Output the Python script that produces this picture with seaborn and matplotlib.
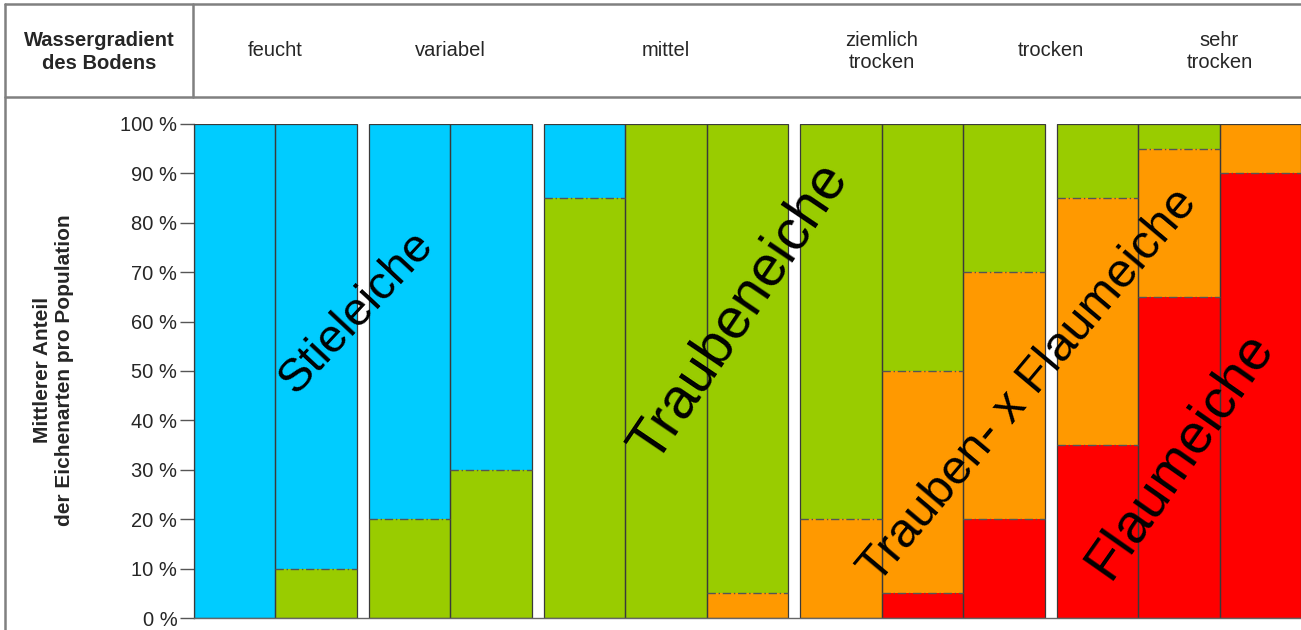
import numpy as np
import pandas as pd
import matplotlib
matplotlib.use("Agg")
import matplotlib.pyplot as plt
import matplotlib.transforms as mtransforms
from matplotlib.lines import Line2D
import seaborn as sns

# header row: soil water gradient
header_labels = ["feucht", "variabel", "mittel", "ziemlich\ntrocken", "trocken", "sehr\ntrocken"]
# which bars each header label sits between (bar indices)
header_anchor = [(0, 1), (2, 3), (5, 5), (7, 8), (9, 10), (11, 12)]
# number of bars per block (blocks are separated by a small gap)
group_sizes = [2, 2, 3, 3, 3]

# mean share of each oak species per population (%), bottom to top of each bar
flaumeiche = [0, 0, 0, 0, 0, 0, 0, 0, 5, 20, 35, 65, 90]
hybrid = [0, 0, 0, 0, 0, 0, 5, 20, 45, 50, 50, 30, 10]
traubeneiche = [0, 10, 20, 30, 85, 100, 95, 80, 50, 30, 15, 5, 0]
stieleiche = [100, 90, 80, 70, 15, 0, 0, 0, 0, 0, 0, 0, 0]

yticks = [0, 10, 20, 30, 40, 50, 60, 70, 80, 90, 100]

colors = {"stiel": "#00CCFF", "trauben": "#99CC00", "hybrid": "#FF9900", "flaum": "#FF0000"}

# big diagonal species labels: text, x (bar units), y (%), angle, size
species_text = ["Stieleiche", "Traubeneiche", "Trauben- x Flaumeiche", "Flaumeiche"]
species_x = [1.5, 6.2, 9.75, 11.6]
species_y = [62, 62, 47, 33]
species_rot = [47, 56, 50, 55]
species_size = [34, 41, 35, 40]

sns.set_style("white")
plt.rcParams['font.family'] = ['Liberation Sans', 'DejaVu Sans']

# bar positions with gaps between blocks
gap = 0.147
pos = []
i = 0
for g, n in enumerate(group_sizes):
    for k in range(n):
        pos.append(i + g * gap)
        i += 1
pos = np.array(pos)

c1 = np.array(flaumeiche)
c2 = c1 + np.array(hybrid)
c3 = c2 + np.array(traubeneiche)
c4 = c3 + np.array(stieleiche)

df = pd.DataFrame({"pos": pos, "c1": c1, "c2": c2, "c3": c3, "c4": c4})

fig = plt.figure(figsize=(13.01, 6.30), dpi=100)
ax = fig.add_axes([194 / 1301, 12 / 630, 1107 / 1301, 494 / 630])

# layered cumulative bars (top layer first)
for col, c in [("c4", colors["stiel"]), ("c3", colors["trauben"]),
               ("c2", colors["hybrid"]), ("c1", colors["flaum"])]:
    sns.barplot(data=df, x="pos", y=col, native_scale=True, orient="x", width=1,
                color=c, saturation=1, linewidth=0, errorbar=None, ax=ax)

# outlines of the whole bars
sns.barplot(data=df, x="pos", y="c4", native_scale=True, orient="x", width=1,
            color="#3a3a3a", fill=False, linewidth=0.9, errorbar=None, ax=ax)

# dash-dot borders between species segments
for x, a, b, c in zip(pos, c1, c2, c3):
    for v in sorted(set([a, b, c])):
        if 0 < v < 100:
            ax.hlines(v, x - 0.5, x + 0.5, colors="#555555", linestyles=(0, (6, 2, 1, 2)), lw=1.0)

for t, x, y, r, s in zip(species_text, species_x, species_y, species_rot, species_size):
    ax.text(x, y, t, rotation=r, rotation_mode="anchor", ha="center", va="center",
            fontsize=s, color="black")

ax.set_xlim(pos[0] - 0.5, pos[-1] + 0.5)
ax.set_ylim(0, 100)
ax.set_yticks(yticks)
ax.set_yticklabels([f"{v} %" for v in yticks], fontsize=14.5)
ax.set_xticks([])
ax.set_xlabel("")
ax.set_ylabel("")
ax.tick_params(axis="y", direction="out", length=10, width=1, color="#555555", pad=2, left=True)
for s in ["top", "right"]:
    ax.spines[s].set_visible(False)
ax.spines["left"].set_color("#3a3a3a")
ax.spines["left"].set_linewidth(0.9)
ax.spines["bottom"].set_color("#666666")
ax.spines["bottom"].set_linewidth(1.0)

# header table
trans = mtransforms.blended_transform_factory(ax.transData, fig.transFigure)
for lab, (a, b) in zip(header_labels, header_anchor):
    xc = (pos[a] + pos[b]) / 2
    fig.text(xc, 1 - 51 / 630, lab, transform=trans, ha="center", va="center",
             fontsize=14.5, linespacing=1.2)

fig.text(99 / 1301, 1 - 52 / 630, "Wassergradient\ndes Bodens", ha="center", va="center",
         fontsize=14.5, fontweight="bold", linespacing=1.25)
fig.text(53 / 1301, 1 - 370 / 630, "Mittlerer Anteil\nder Eichenarten pro Population",
         rotation=90, ha="center", va="center", fontsize=15, fontweight="bold", linespacing=1.2)

line_kw = dict(color="#808080", lw=1.8, transform=fig.transFigure)
fig.add_artist(Line2D([5 / 1301, 1], [1 - 4 / 630, 1 - 4 / 630], **line_kw))
fig.add_artist(Line2D([5 / 1301, 1], [1 - 97 / 630, 1 - 97 / 630], **line_kw))
fig.add_artist(Line2D([5 / 1301, 5 / 1301], [0, 1 - 4 / 630], **line_kw))
fig.add_artist(Line2D([193 / 1301, 193 / 1301], [1 - 97 / 630, 1 - 4 / 630], **line_kw))

fig.savefig("out.png", dpi=100)
